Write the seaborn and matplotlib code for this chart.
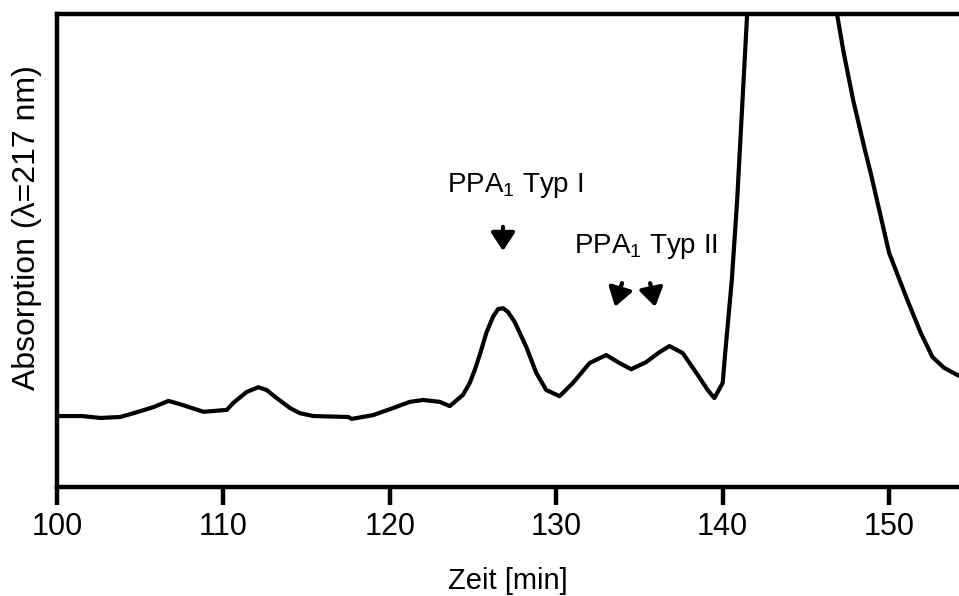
import matplotlib
matplotlib.use("Agg")
import matplotlib.pyplot as plt
import seaborn as sns
import pandas as pd

# Retention time [min]
zeit = [100.0, 101.5, 102.6, 103.8, 104.6, 105.8, 106.7, 107.4, 108.1, 108.8,
        110.2, 110.6, 111.4, 112.1, 112.6, 113.2, 114.0, 114.6, 115.4, 117.5,
        117.7, 119.0, 120.2, 121.2, 122.0, 123.0, 123.6, 124.4, 124.8, 125.1,
        125.4, 125.8, 126.2, 126.5, 126.8, 127.1, 127.5, 128.2, 128.8, 129.4,
        130.2, 131.0, 132.0, 133.0, 133.8, 134.5, 135.4, 136.2, 136.8, 137.6,
        138.5, 139.1, 139.5, 140.0, 140.15, 140.55, 140.87, 141.47, 142.5, 144.0,
        145.5, 146.9, 147.24, 147.84, 148.55, 148.9, 150.0, 151.1, 151.9, 152.6,
        153.3, 154.2]
# Absorption (arbitrary units)
absorption = [15.0, 15.0, 14.6, 14.8, 15.6, 16.9, 18.2, 17.5, 16.7, 15.9,
              16.3, 17.8, 20.1, 21.1, 20.5, 18.8, 16.7, 15.6, 15.0, 14.8,
              14.4, 15.2, 16.7, 18.0, 18.4, 18.0, 17.1, 19.5, 22.0, 24.7,
              27.9, 32.6, 36.0, 37.6, 37.8, 37.0, 34.9, 29.6, 24.1, 20.5,
              19.2, 22.0, 26.2, 27.9, 26.2, 24.9, 26.4, 28.5, 29.8, 28.3,
              23.7, 20.5, 18.8, 22.0, 28.3, 43.8, 60.7, 100.0, 130.0, 145.0,
              135.0, 99.4, 92.4, 81.8, 71.2, 66.3, 49.5, 39.5, 32.6, 27.5,
              25.2, 23.5]

x_ticks = [100, 110, 120, 130, 140, 150]
label_typ1 = "PPA$_1$ Typ I"
label_typ2 = "PPA$_1$ Typ II"

df = pd.DataFrame({"Zeit": zeit, "Absorption": absorption})

sns.set_theme(style="white")
plt.rcParams["font.family"] = ["Liberation Sans", "DejaVu Sans"]
plt.rcParams["mathtext.fontset"] = "custom"
plt.rcParams["mathtext.rm"] = "Liberation Sans"
plt.rcParams["mathtext.it"] = "Liberation Sans"
plt.rcParams["text.color"] = "black"
plt.rcParams["axes.labelcolor"] = "black"
plt.rcParams["xtick.color"] = "black"

fig = plt.figure(figsize=(9.59, 5.96), dpi=100)
ax = fig.add_axes([57 / 959, 1 - 487 / 596, 1 - 57 / 959, (487 - 14) / 596])

sns.lineplot(data=df, x="Zeit", y="Absorption", ax=ax, color="black",
             linewidth=3.0, sort=False)
for ln in ax.get_lines():
    ln.set_solid_joinstyle("round")
    ln.set_solid_capstyle("round")

ax.set_xlim(100, 154.2)
ax.set_ylim(0, 100)
ax.set_xticks(x_ticks)
ax.set_xticklabels([str(t) for t in x_ticks], fontsize=22)
ax.set_yticks([])

for s in ["left", "top", "bottom"]:
    ax.spines[s].set_visible(True)
    ax.spines[s].set_color("black")
    ax.spines[s].set_linewidth(3.2)
ax.spines["right"].set_visible(False)

ax.tick_params(axis="x", direction="out", length=13, width=3.2, color="black",
               pad=5, bottom=True, labelcolor="black")

ax.set_xlabel("Zeit [min]", fontsize=21, color="black", labelpad=18)
ax.set_ylabel("Absorption (\u03bb=217 nm)", fontsize=23, color="black")
ax.yaxis.set_label_coords(-0.0166, 0.548)

# Annotations
ax.text(127.5, 62.4, label_typ1, fontsize=20, ha="center", va="baseline")
ax.text(135.4, 49.5, label_typ2, fontsize=20, ha="center", va="baseline")

arrow_kw = dict(arrowstyle="-|>,head_length=0.55,head_width=0.36",
                color="black", lw=3, shrinkA=0, shrinkB=0, mutation_scale=20)
ax.annotate("", xy=(126.8, 49.9), xytext=(126.8, 55.0), arrowprops=arrow_kw)
ax.annotate("", xy=(133.53, 38.1), xytext=(133.95, 43.1), arrowprops=arrow_kw)
ax.annotate("", xy=(135.94, 38.1), xytext=(135.64, 43.1), arrowprops=arrow_kw)

fig.savefig("out.png", dpi=100)
